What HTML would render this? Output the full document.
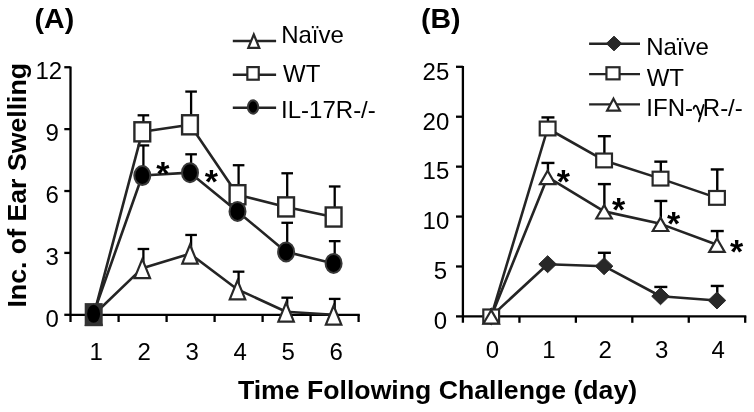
<!DOCTYPE html>
<html><head><meta charset="utf-8"><style>
html,body{margin:0;padding:0;background:#fff;}
svg{display:block;will-change:transform;font-family:"Liberation Sans",sans-serif;}
text{fill:#000;}
</style></head><body>
<svg width="754" height="412" viewBox="0 0 754 412">
<line x1="70.5" y1="66.6" x2="70.5" y2="322" stroke="#000" stroke-width="2.3"/>
<line x1="64.3" y1="314.8" x2="70.5" y2="314.8" stroke="#000" stroke-width="2.3"/>
<line x1="64.3" y1="252.91" x2="70.5" y2="252.91" stroke="#000" stroke-width="2.3"/>
<line x1="64.3" y1="191.02" x2="70.5" y2="191.02" stroke="#000" stroke-width="2.3"/>
<line x1="64.3" y1="129.13" x2="70.5" y2="129.13" stroke="#000" stroke-width="2.3"/>
<line x1="64.3" y1="67.24" x2="70.5" y2="67.24" stroke="#000" stroke-width="2.3"/>
<line x1="70.5" y1="314.8" x2="359.8" y2="314.8" stroke="#000" stroke-width="2.3"/>
<line x1="118.6" y1="314.8" x2="118.6" y2="322" stroke="#000" stroke-width="2.3"/>
<line x1="166.6" y1="314.8" x2="166.6" y2="322" stroke="#000" stroke-width="2.3"/>
<line x1="214.6" y1="314.8" x2="214.6" y2="322" stroke="#000" stroke-width="2.3"/>
<line x1="262.6" y1="314.8" x2="262.6" y2="322" stroke="#000" stroke-width="2.3"/>
<line x1="310.6" y1="314.8" x2="310.6" y2="322" stroke="#000" stroke-width="2.3"/>
<line x1="358.6" y1="314.8" x2="358.6" y2="322" stroke="#000" stroke-width="2.3"/>
<text x="58.9" y="326.6" font-size="24" font-weight="normal" text-anchor="end" >0</text>
<text x="58.9" y="264.71" font-size="24" font-weight="normal" text-anchor="end" >3</text>
<text x="58.9" y="202.82" font-size="24" font-weight="normal" text-anchor="end" >6</text>
<text x="58.9" y="140.93" font-size="24" font-weight="normal" text-anchor="end" >9</text>
<text x="62.2" y="78.54" font-size="24" font-weight="normal" text-anchor="end" >12</text>
<text x="96.2" y="360" font-size="24" font-weight="normal" text-anchor="middle" >1</text>
<text x="144.2" y="360" font-size="24" font-weight="normal" text-anchor="middle" >2</text>
<text x="192.2" y="360" font-size="24" font-weight="normal" text-anchor="middle" >3</text>
<text x="240.2" y="360" font-size="24" font-weight="normal" text-anchor="middle" >4</text>
<text x="288.2" y="360" font-size="24" font-weight="normal" text-anchor="middle" >5</text>
<text x="336.2" y="360" font-size="24" font-weight="normal" text-anchor="middle" >6</text>
<line x1="143.4" y1="268.18" x2="143.4" y2="248.99" stroke="#000" stroke-width="2.3"/>
<line x1="137.6" y1="248.99" x2="149.2" y2="248.99" stroke="#000" stroke-width="2.3"/>
<line x1="143.4" y1="131.81" x2="143.4" y2="115.31" stroke="#000" stroke-width="2.3"/>
<line x1="137.6" y1="115.31" x2="149.2" y2="115.31" stroke="#000" stroke-width="2.3"/>
<line x1="143.4" y1="175.55" x2="143.4" y2="145.43" stroke="#000" stroke-width="2.3"/>
<line x1="137.6" y1="145.43" x2="149.2" y2="145.43" stroke="#000" stroke-width="2.3"/>
<line x1="191.1" y1="253.74" x2="191.1" y2="234.96" stroke="#000" stroke-width="2.3"/>
<line x1="185.3" y1="234.96" x2="196.9" y2="234.96" stroke="#000" stroke-width="2.3"/>
<line x1="191.1" y1="124.8" x2="191.1" y2="91.58" stroke="#000" stroke-width="2.3"/>
<line x1="185.3" y1="91.58" x2="196.9" y2="91.58" stroke="#000" stroke-width="2.3"/>
<line x1="191.1" y1="172.66" x2="191.1" y2="154.3" stroke="#000" stroke-width="2.3"/>
<line x1="185.3" y1="154.3" x2="196.9" y2="154.3" stroke="#000" stroke-width="2.3"/>
<line x1="238.6" y1="289.43" x2="238.6" y2="271.68" stroke="#000" stroke-width="2.3"/>
<line x1="232.8" y1="271.68" x2="244.4" y2="271.68" stroke="#000" stroke-width="2.3"/>
<line x1="238.6" y1="194.73" x2="238.6" y2="165.23" stroke="#000" stroke-width="2.3"/>
<line x1="232.8" y1="165.23" x2="244.4" y2="165.23" stroke="#000" stroke-width="2.3"/>
<line x1="287.2" y1="311.71" x2="287.2" y2="297.68" stroke="#000" stroke-width="2.3"/>
<line x1="281.4" y1="297.68" x2="293" y2="297.68" stroke="#000" stroke-width="2.3"/>
<line x1="287.2" y1="206.91" x2="287.2" y2="173.28" stroke="#000" stroke-width="2.3"/>
<line x1="281.4" y1="173.28" x2="293" y2="173.28" stroke="#000" stroke-width="2.3"/>
<line x1="287.2" y1="251.88" x2="287.2" y2="222.79" stroke="#000" stroke-width="2.3"/>
<line x1="281.4" y1="222.79" x2="293" y2="222.79" stroke="#000" stroke-width="2.3"/>
<line x1="334.7" y1="314.8" x2="334.7" y2="298.91" stroke="#000" stroke-width="2.3"/>
<line x1="328.9" y1="298.91" x2="340.5" y2="298.91" stroke="#000" stroke-width="2.3"/>
<line x1="334.7" y1="217.01" x2="334.7" y2="186.48" stroke="#000" stroke-width="2.3"/>
<line x1="328.9" y1="186.48" x2="340.5" y2="186.48" stroke="#000" stroke-width="2.3"/>
<line x1="334.7" y1="263.43" x2="334.7" y2="241.15" stroke="#000" stroke-width="2.3"/>
<line x1="328.9" y1="241.15" x2="340.5" y2="241.15" stroke="#000" stroke-width="2.3"/>
<polyline fill="none" stroke="#242424" stroke-width="2.6" stroke-linejoin="round" points="93.8,314.8 142.3,268.18 190,253.74 237.5,289.43 286.1,311.71 333.6,314.8"/>
<polyline fill="none" stroke="#242424" stroke-width="2.6" stroke-linejoin="round" points="93.8,314.8 142.3,131.81 190,124.8 237.5,194.73 286.1,206.91 333.6,217.01"/>
<polyline fill="none" stroke="#242424" stroke-width="2.6" stroke-linejoin="round" points="93.8,312.74 142.3,175.55 190,172.66 237.5,211.44 286.1,251.88 333.6,263.43"/>
<polygon points="93.8,305.78 101.54,324.7 86.06,324.7" fill="#fff" stroke="#282828" stroke-width="2.2" stroke-linejoin="miter"/>
<polygon points="142.3,259.16 150.04,278.08 134.56,278.08" fill="#fff" stroke="#282828" stroke-width="2.2" stroke-linejoin="miter"/>
<polygon points="190,244.72 197.74,263.64 182.26,263.64" fill="#fff" stroke="#282828" stroke-width="2.2" stroke-linejoin="miter"/>
<polygon points="237.5,280.41 245.24,299.33 229.76,299.33" fill="#fff" stroke="#282828" stroke-width="2.2" stroke-linejoin="miter"/>
<polygon points="286.1,302.69 293.84,321.61 278.36,321.61" fill="#fff" stroke="#282828" stroke-width="2.2" stroke-linejoin="miter"/>
<polygon points="333.6,305.78 341.34,324.7 325.86,324.7" fill="#fff" stroke="#282828" stroke-width="2.2" stroke-linejoin="miter"/>
<rect x="134.4" y="122.26" width="15.8" height="19.1" fill="#fff" stroke="#282828" stroke-width="2.4"/>
<rect x="182.1" y="115.25" width="15.8" height="19.1" fill="#fff" stroke="#282828" stroke-width="2.4"/>
<rect x="229.6" y="185.18" width="15.8" height="19.1" fill="#fff" stroke="#282828" stroke-width="2.4"/>
<rect x="278.2" y="197.36" width="15.8" height="19.1" fill="#fff" stroke="#282828" stroke-width="2.4"/>
<rect x="325.7" y="207.46" width="15.8" height="19.1" fill="#fff" stroke="#282828" stroke-width="2.4"/>
<ellipse cx="142.3" cy="175.55" rx="8" ry="9.5" fill="#000" stroke="#383838" stroke-width="2.0"/>
<ellipse cx="190" cy="172.66" rx="8" ry="9.5" fill="#000" stroke="#383838" stroke-width="2.0"/>
<ellipse cx="237.5" cy="211.44" rx="8" ry="9.5" fill="#000" stroke="#383838" stroke-width="2.0"/>
<ellipse cx="286.1" cy="251.88" rx="8" ry="9.5" fill="#000" stroke="#383838" stroke-width="2.0"/>
<ellipse cx="333.6" cy="263.43" rx="8" ry="9.5" fill="#000" stroke="#383838" stroke-width="2.0"/>
<rect x="84.7" y="303.1" width="18" height="23.1" fill="#333"/>
<ellipse cx="93.6" cy="313.8" rx="6.5" ry="9" fill="#000"/>
<text x="162.75" y="184.7" font-size="34" font-weight="bold" text-anchor="middle" >*</text>
<text x="211.4" y="193.4" font-size="34" font-weight="bold" text-anchor="middle" >*</text>
<line x1="232.8" y1="41" x2="276.1" y2="41" stroke="#242424" stroke-width="2.4"/>
<line x1="232.8" y1="74.7" x2="276.1" y2="74.7" stroke="#242424" stroke-width="2.4"/>
<line x1="232.8" y1="107.8" x2="276.1" y2="107.8" stroke="#242424" stroke-width="2.4"/>
<polygon points="253.8,34.53 259.29,47.95 248.31,47.95" fill="#fff" stroke="#282828" stroke-width="2.2" stroke-linejoin="miter"/>
<rect x="247.35" y="67.1" width="11.4" height="12.6" fill="#fff" stroke="#282828" stroke-width="2.2"/>
<ellipse cx="253.05" cy="107" rx="5.2" ry="6.7" fill="#000" stroke="#383838" stroke-width="2.0"/>
<text x="281.2" y="43" font-size="24" font-weight="normal" text-anchor="start" >Na&#239;ve</text>
<text x="283" y="82" font-size="24" font-weight="normal" text-anchor="start" >WT</text>
<text x="281.1" y="117.5" font-size="24" font-weight="normal" text-anchor="start" >IL-17R-/-</text>
<line x1="462.9" y1="65.9" x2="462.9" y2="322.8" stroke="#000" stroke-width="2.3"/>
<line x1="456" y1="316.4" x2="462.9" y2="316.4" stroke="#000" stroke-width="2.3"/>
<line x1="456" y1="266.48" x2="462.9" y2="266.48" stroke="#000" stroke-width="2.3"/>
<line x1="456" y1="216.56" x2="462.9" y2="216.56" stroke="#000" stroke-width="2.3"/>
<line x1="456" y1="166.64" x2="462.9" y2="166.64" stroke="#000" stroke-width="2.3"/>
<line x1="456" y1="116.72" x2="462.9" y2="116.72" stroke="#000" stroke-width="2.3"/>
<line x1="456" y1="66.8" x2="462.9" y2="66.8" stroke="#000" stroke-width="2.3"/>
<line x1="462.9" y1="316.4" x2="746.3" y2="316.4" stroke="#000" stroke-width="2.3"/>
<line x1="519.44" y1="316.4" x2="519.44" y2="322.8" stroke="#000" stroke-width="2.3"/>
<line x1="575.88" y1="316.4" x2="575.88" y2="322.8" stroke="#000" stroke-width="2.3"/>
<line x1="632.32" y1="316.4" x2="632.32" y2="322.8" stroke="#000" stroke-width="2.3"/>
<line x1="688.76" y1="316.4" x2="688.76" y2="322.8" stroke="#000" stroke-width="2.3"/>
<line x1="745.2" y1="316.4" x2="745.2" y2="322.8" stroke="#000" stroke-width="2.3"/>
<text x="447" y="329.2" font-size="24" font-weight="normal" text-anchor="end" >0</text>
<text x="447" y="279.28" font-size="24" font-weight="normal" text-anchor="end" >5</text>
<text x="449.3" y="229.36" font-size="24" font-weight="normal" text-anchor="end" >10</text>
<text x="449.3" y="179.44" font-size="24" font-weight="normal" text-anchor="end" >15</text>
<text x="449.3" y="129.52" font-size="24" font-weight="normal" text-anchor="end" >20</text>
<text x="449.3" y="79.6" font-size="24" font-weight="normal" text-anchor="end" >25</text>
<text x="492.4" y="358.2" font-size="24" font-weight="normal" text-anchor="middle" >0</text>
<text x="548.84" y="358.2" font-size="24" font-weight="normal" text-anchor="middle" >1</text>
<text x="605.28" y="358.2" font-size="24" font-weight="normal" text-anchor="middle" >2</text>
<text x="661.72" y="358.2" font-size="24" font-weight="normal" text-anchor="middle" >3</text>
<text x="718.16" y="358.2" font-size="24" font-weight="normal" text-anchor="middle" >4</text>
<line x1="547.94" y1="128.5" x2="547.94" y2="117.42" stroke="#000" stroke-width="2.4"/>
<line x1="541.44" y1="117.42" x2="554.44" y2="117.42" stroke="#000" stroke-width="2.4"/>
<line x1="547.94" y1="177.02" x2="547.94" y2="162.95" stroke="#000" stroke-width="2.4"/>
<line x1="541.44" y1="162.95" x2="554.44" y2="162.95" stroke="#000" stroke-width="2.4"/>
<line x1="604.38" y1="266.18" x2="604.38" y2="252.8" stroke="#000" stroke-width="2.4"/>
<line x1="597.88" y1="252.8" x2="610.88" y2="252.8" stroke="#000" stroke-width="2.4"/>
<line x1="604.38" y1="160.45" x2="604.38" y2="136.19" stroke="#000" stroke-width="2.4"/>
<line x1="597.88" y1="136.19" x2="610.88" y2="136.19" stroke="#000" stroke-width="2.4"/>
<line x1="604.38" y1="211.37" x2="604.38" y2="184.11" stroke="#000" stroke-width="2.4"/>
<line x1="597.88" y1="184.11" x2="610.88" y2="184.11" stroke="#000" stroke-width="2.4"/>
<line x1="660.82" y1="296.23" x2="660.82" y2="286.95" stroke="#000" stroke-width="2.4"/>
<line x1="654.32" y1="286.95" x2="667.32" y2="286.95" stroke="#000" stroke-width="2.4"/>
<line x1="660.82" y1="178.62" x2="660.82" y2="161.65" stroke="#000" stroke-width="2.4"/>
<line x1="654.32" y1="161.65" x2="667.32" y2="161.65" stroke="#000" stroke-width="2.4"/>
<line x1="660.82" y1="223.85" x2="660.82" y2="200.98" stroke="#000" stroke-width="2.4"/>
<line x1="654.32" y1="200.98" x2="667.32" y2="200.98" stroke="#000" stroke-width="2.4"/>
<line x1="717.26" y1="300.43" x2="717.26" y2="285.95" stroke="#000" stroke-width="2.4"/>
<line x1="710.76" y1="285.95" x2="723.76" y2="285.95" stroke="#000" stroke-width="2.4"/>
<line x1="717.26" y1="197.89" x2="717.26" y2="169.44" stroke="#000" stroke-width="2.4"/>
<line x1="710.76" y1="169.44" x2="723.76" y2="169.44" stroke="#000" stroke-width="2.4"/>
<line x1="717.26" y1="244.71" x2="717.26" y2="231.04" stroke="#000" stroke-width="2.4"/>
<line x1="710.76" y1="231.04" x2="723.76" y2="231.04" stroke="#000" stroke-width="2.4"/>
<polyline fill="none" stroke="#242424" stroke-width="2.6" stroke-linejoin="round" points="491.2,316.4 547.64,264.18 604.08,266.18 660.52,296.23 716.96,300.43"/>
<polyline fill="none" stroke="#242424" stroke-width="2.6" stroke-linejoin="round" points="491.2,316.4 547.64,128.5 604.08,160.45 660.52,178.62 716.96,197.89"/>
<polyline fill="none" stroke="#242424" stroke-width="2.6" stroke-linejoin="round" points="491.2,316.4 547.64,177.02 604.08,211.37 660.52,223.85 716.96,244.71"/>
<polygon points="491.2,307.9 500,316.4 491.2,324.9 482.4,316.4" fill="#282828" stroke="#282828" stroke-width="1" stroke-linejoin="round"/>
<polygon points="547.64,255.68 556.44,264.18 547.64,272.68 538.84,264.18" fill="#282828" stroke="#282828" stroke-width="1" stroke-linejoin="round"/>
<polygon points="604.08,257.68 612.88,266.18 604.08,274.68 595.28,266.18" fill="#282828" stroke="#282828" stroke-width="1" stroke-linejoin="round"/>
<polygon points="660.52,287.73 669.32,296.23 660.52,304.73 651.72,296.23" fill="#282828" stroke="#282828" stroke-width="1" stroke-linejoin="round"/>
<polygon points="716.96,291.93 725.76,300.43 716.96,308.93 708.16,300.43" fill="#282828" stroke="#282828" stroke-width="1" stroke-linejoin="round"/>
<rect x="483.3" y="309.5" width="15.8" height="13.8" fill="#fff" stroke="#282828" stroke-width="2.2"/>
<rect x="539.74" y="121.6" width="15.8" height="13.8" fill="#fff" stroke="#282828" stroke-width="2.2"/>
<rect x="596.18" y="153.55" width="15.8" height="13.8" fill="#fff" stroke="#282828" stroke-width="2.2"/>
<rect x="652.62" y="171.72" width="15.8" height="13.8" fill="#fff" stroke="#282828" stroke-width="2.2"/>
<rect x="709.06" y="190.99" width="15.8" height="13.8" fill="#fff" stroke="#282828" stroke-width="2.2"/>
<polygon points="491.2,310.13 498.94,323.55 483.46,323.55" fill="#fff" stroke="#282828" stroke-width="2.2" stroke-linejoin="miter"/>
<polygon points="547.64,170.75 555.38,184.17 539.9,184.17" fill="#fff" stroke="#282828" stroke-width="2.2" stroke-linejoin="miter"/>
<polygon points="604.08,205.1 611.82,218.52 596.34,218.52" fill="#fff" stroke="#282828" stroke-width="2.2" stroke-linejoin="miter"/>
<polygon points="660.52,217.58 668.26,231 652.78,231" fill="#fff" stroke="#282828" stroke-width="2.2" stroke-linejoin="miter"/>
<polygon points="716.96,238.44 724.7,251.86 709.22,251.86" fill="#fff" stroke="#282828" stroke-width="2.2" stroke-linejoin="miter"/>
<text x="563.35" y="193.4" font-size="34" font-weight="bold" text-anchor="middle" >*</text>
<text x="618.6" y="220.65" font-size="34" font-weight="bold" text-anchor="middle" >*</text>
<text x="673.7" y="234.75" font-size="34" font-weight="bold" text-anchor="middle" >*</text>
<text x="736.6" y="262.5" font-size="34" font-weight="bold" text-anchor="middle" >*</text>
<line x1="589.1" y1="43.7" x2="640" y2="43.7" stroke="#242424" stroke-width="2.4"/>
<line x1="589.1" y1="74.1" x2="640" y2="74.1" stroke="#242424" stroke-width="2.4"/>
<line x1="589.1" y1="104.4" x2="640" y2="104.4" stroke="#242424" stroke-width="2.4"/>
<polygon points="614,36.2 621.7,43.5 614,50.8 606.3,43.5" fill="#282828" stroke="#282828" stroke-width="1" stroke-linejoin="round"/>
<rect x="606.45" y="67.25" width="13.1" height="12.1" fill="#fff" stroke="#282828" stroke-width="2.2"/>
<polygon points="613.5,98.68 619.89,110.6 607.11,110.6" fill="#fff" stroke="#282828" stroke-width="2.2" stroke-linejoin="miter"/>
<text x="646.2" y="54.9" font-size="24" font-weight="normal" text-anchor="start" >Na&#239;ve</text>
<text x="646.7" y="85.9" font-size="24" font-weight="normal" text-anchor="start" >WT</text>
<text x="646.3" y="116.3" font-size="24" font-weight="normal" text-anchor="start" >IFN-</text>
<text x="702.8" y="116.3" font-size="24" font-weight="normal" text-anchor="start" >R-/-</text>
<path d="M693.6,108.6 C694,105.8 695.9,104.6 697.4,107.4 L700.6,116.4 M703.6,104.9 L700.4,116.6 C699.6,119.2 699.2,120.4 698.9,121.3" fill="none" stroke="#000" stroke-width="1.8" stroke-linecap="round"/>
<text x="34.6" y="27.5" font-size="28.5" font-weight="bold" text-anchor="start" >(A)</text>
<text x="421" y="27.6" font-size="28.5" font-weight="bold" text-anchor="start" >(B)</text>
<text x="437.5" y="399.2" font-size="26.65" font-weight="bold" text-anchor="middle" >Time Following Challenge (day)</text>
<text transform="translate(26.1,185.2) rotate(-90)" font-size="26.7" font-weight="bold" text-anchor="middle">Inc. of Ear Swelling</text>
</svg>
</body></html>
